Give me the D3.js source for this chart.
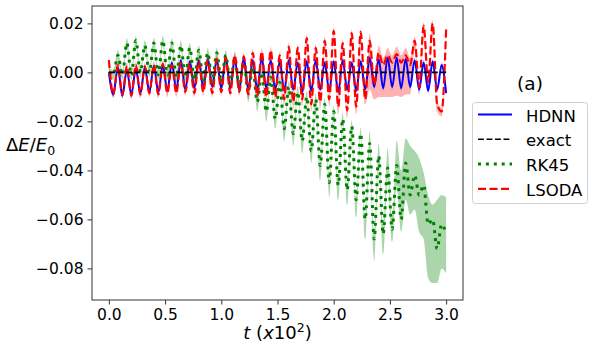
<!DOCTYPE html>
<html>
<head>
<meta charset="utf-8">
<script src="https://d3js.org/d3.v7.min.js"></script>
<style>
  body { margin: 0; background: #fff; }
  text { font-family: "DejaVu Sans", sans-serif; fill: #000; }
</style>
</head>
<body>
<div id="chart"></div>
<script>
// sample times, in units of 10^2 (shared by the three integrators)
const tGrid = [0.00,0.04,0.08,0.12,0.16,0.20,0.24,0.28,0.32,0.36,
  0.40,0.44,0.48,0.52,0.56,0.60,0.64,0.68,0.72,0.76,
  0.80,0.84,0.88,0.92,0.96,1.00,1.04,1.08,1.12,1.16,
  1.20,1.24,1.28,1.32,1.36,1.40,1.44,1.48,1.52,1.56,
  1.60,1.64,1.68,1.72,1.76,1.80,1.84,1.88,1.92,1.96,
  2.00,2.04,2.08,2.12,2.16,2.20,2.24,2.28,2.32,2.36,
  2.40,2.44,2.48,2.52,2.56,2.60,2.64,2.68,2.72,2.76,
  2.80,2.84,2.88,2.92,2.96,3.00];

// energy error dE/E0, all in units of 1e-3
const hdnn = [0,-9,2,-9.5,1,-9,1.5,-8.5,2,-8,
  2.5,-8,3,-7.5,4,-7,5,-7,4.5,-6.5,
  5,-6.5,5.5,-6,5,-6.5,6,-6.5,5.5,-7,
  6,-6.5,5,-7,6,-6.5,5,-7,4.5,-7.5,
  5,-7,4,-8,4.5,-7.5,5,-7,4,-7.5,
  4.5,-8,5,-7,4,-7.5,4.5,-7,6,-6,
  5.5,-6.5,6,-6,6,-6.5,5.5,-6,5,-7,
  4,-7.5,4.5,-7,3,-8.5];
const hdnnSpread = 1.2;

const lsoda = [5,-9,3,-9,2.5,-9.5,3,-9,2.5,-8.5,
  3,-9,3.5,-8.5,3,-8.5,4,-8,3.5,-8.5,
  4.5,-8,5,-8.5,5.5,-8,6,-8.5,7,-8,
  6.5,-9,8,-9.5,8.5,-10,9,-10,7,-11,
  10.5,-12,10,-11,14,-13,10,-12,13,-11,
  17,-14,12,-15.5,16,-14,16.5,-11,13,-5,
  8,3,7,4,7.5,4,7,3,13,-6,
  19,-4,20,-13,-16,18];
const lsodaLo = [1.5,1.5,1.5,1.5,1.5,1.5,1.5,1.5,1.5,1.5,
  1.5,1.5,1.5,1.5,1.5,1.5,1.5,1.5,1.5,1.5,
  1.5,1.5,1.5,1.5,1.5,1.5,1.5,1.5,1.5,1.5,
  1.5,2,1.5,2,1.5,2,1.5,2,1.5,2.5,
  2,3,2,3,2,3,2,3,2,3,
  2,3,2,3,2,3,4,2,20,6,
  18,13,17,14,17,14,16,12,4,3,
  3,4,3,3,2,2];
const lsodaHi = [1.5,1.5,1.5,1.5,1.5,1.5,1.5,1.5,1.5,1.5,
  1.5,1.5,1.5,1.5,1.5,1.5,1.5,1.5,1.5,1.5,
  1.5,1.5,1.5,1.5,1.5,1.5,1.5,1.5,1.5,1.5,
  1.5,1.5,1.5,1.5,1.5,1.5,1.5,1.5,1.5,1.5,
  1.5,1.5,1.5,1.5,1.5,1.5,1.5,1.5,1.5,1.5,
  1.5,1.5,1.5,1.5,1.5,1.5,1.5,1.5,3,3,
  3,3,3,3,3,3,3,3,1.5,1.5,
  1.5,1.5,1.5,1.5,1.5,1.5];

const rk45 = [0,-1,7,-1,12,-1,13,0,11,0,
  12,-1,13,-1,12,-2,11,-2,10,-3,
  9,-3,8,-4,8,-4,7,-5,6,-6,
  4,-8,2,-12,0,-16,-2,-19,-4,-23,
  -6,-25,-8,-28,-10,-32,-11,-38,-13,-45,
  -16,-46,-19,-48,-22,-52,-25,-60,-29,-68,
  -34,-66,-39,-64,-38,-60,-37,-50,-42,-50,
  -46,-62,-60,-72,-62,-66];
const rk45Lo = [2,2,2,2,2,2,2,2,2,2,
  2,2,2,2,2,2,2,2,2,2,
  2,2,2,2,2,2,2,2,2,2,
  2,4,1.5,4,1.5,4,1.5,4,1.5,5,
  1.5,5,1.5,5,1.5,5,1.5,6,1.5,6,
  1.5,6,1.5,6,1.5,7,1.5,8,3,9,
  3,8,4,5,8,5,15,8,14,15,
  22,22,26,14,18,16];
const rk45Hi = [2,2,2,2,2,2,2,2,2,2,
  2,2,2,2,2,2,2,2,2,2,
  2,2,2,2,2,2,2,2,2,2,
  2,1.5,2.5,1.5,2.5,1.5,2.5,1.5,2.5,1.5,
  2.5,1.5,2.5,1.5,2.5,1.5,2.5,1.5,2.5,1.5,
  2.5,1.5,2.5,1.5,2.5,1.5,2.5,1.5,5,3,
  5,4,8,5,10,20,10,20,10,15,
  5,12,6,20,12,15];

// exact solution: energy is conserved
const exactT = [0, 3.0];
const exactE = [0, 0];

const xTicks = [0, 0.5, 1.0, 1.5, 2.0, 2.5, 3.0];
const yTicks = [-0.08, -0.06, -0.04, -0.02, 0.00, 0.02];

const legendNames = ["HDNN", "exact", "RK45", "LSODA"];

// Dimensions
let width = 595,
    height = 351;
let margin = { top: 6, bottom: 51, left: 92, right: 132 };

let svg = d3.select('#chart')
  .append('svg')
  .attr('width', width)
  .attr('height', height);

let xScale = d3.scaleLinear()
  .domain([-0.15, 3.15])
  .range([margin.left, width - margin.right]);

let yScale = d3.scaleLinear()
  .domain([-0.0929, 0.0271])
  .range([height - margin.bottom, margin.top]);

// build point tables from the arrays (values back to real units)
const toRows = (vals, lo, hi) => tGrid.map((t, i) => ({
  t: t,
  v: vals[i] * 1e-3,
  lo: (vals[i] - (typeof lo === 'number' ? lo : lo[i])) * 1e-3,
  hi: (vals[i] + (typeof hi === 'number' ? hi : hi[i])) * 1e-3
}));
const hdnnRows = toRows(hdnn, hdnnSpread, hdnnSpread);
const lsodaRows = toRows(lsoda, lsodaLo, lsodaHi);
const rk45Rows = toRows(rk45, rk45Lo, rk45Hi);

const line = d3.line()
  .x(d => xScale(d.t))
  .y(d => yScale(d.v))
  .curve(d3.curveMonotoneX);

const band = d3.area()
  .x(d => xScale(d.t))
  .y0(d => yScale(d.lo))
  .y1(d => yScale(d.hi))
  .curve(d3.curveMonotoneX);

const styles = {
  HDNN:  { color: '#0000ff', width: 2,   dash: null },
  exact: { color: '#000000', width: 1.6, dash: '5.9,2.6' },
  RK45:  { color: '#008000', width: 3,   dash: '3,4.9' },
  LSODA: { color: '#ff0000', width: 2.2, dash: '8,3.5' }
};

// shaded spread
svg.append('path').datum(hdnnRows).attr('d', band)
  .attr('fill', '#0000ff').attr('fill-opacity', 0.2);
svg.append('path').datum(rk45Rows).attr('d', band)
  .attr('fill', '#008000').attr('fill-opacity', 0.33);
svg.append('path').datum(lsodaRows).attr('d', band)
  .attr('fill', '#ff0000').attr('fill-opacity', 0.3);

// lines
const drawLine = (rows, name) => svg.append('path')
  .datum(rows)
  .attr('d', line)
  .attr('fill', 'none')
  .attr('stroke', styles[name].color)
  .attr('stroke-width', styles[name].width)
  .attr('stroke-dasharray', styles[name].dash);

drawLine(hdnnRows, 'HDNN');
drawLine(rk45Rows, 'RK45');
drawLine(lsodaRows, 'LSODA');
drawLine(exactT.map((t, i) => ({ t: t, v: exactE[i] })), 'exact');

// axes
let xAxis = svg.append('g')
  .attr('transform', `translate(0,${height - margin.bottom})`)
  .call(d3.axisBottom(xScale).tickValues(xTicks).tickFormat(d3.format('.1f')).tickSize(4.5).tickPadding(4));

let yAxis = svg.append('g')
  .attr('transform', `translate(${margin.left},0)`)
  .call(d3.axisLeft(yScale).tickValues(yTicks).tickFormat(d3.format('.2f')).tickSize(4.5).tickPadding(4));

[xAxis, yAxis].forEach(ax => {
  ax.select('.domain').remove();
  ax.selectAll('.tick line').attr('stroke', '#333').attr('stroke-width', 1);
  ax.selectAll('.tick text')
    .style('font-family', '"DejaVu Sans", sans-serif')
    .style('font-size', '15.5px')
    .attr('fill', '#000');
});

// frame
svg.append('rect')
  .attr('x', margin.left)
  .attr('y', margin.top)
  .attr('width', width - margin.left - margin.right)
  .attr('height', height - margin.top - margin.bottom)
  .attr('fill', 'none')
  .attr('stroke', '#333')
  .attr('stroke-width', 1);

// x label
let xl = svg.append('text')
  .attr('x', (margin.left + width - margin.right) / 2)
  .attr('y', 339)
  .style('text-anchor', 'middle')
  .style('font-size', '18px');
xl.append('tspan').style('font-style', 'italic').text('t');
xl.append('tspan').text(' (');
xl.append('tspan').style('font-style', 'italic').text('x');
xl.append('tspan').text('10');
xl.append('tspan').attr('dy', -7).style('font-size', '12.5px').text('2');
xl.append('tspan').attr('dy', 7).text(')');

// y label (horizontal, as in the figure)
let yl = svg.append('text')
  .attr('x', 6)
  .attr('y', 151)
  .style('font-size', '18px');
yl.append('tspan').text('Δ');
yl.append('tspan').style('font-style', 'italic').text('E');
yl.append('tspan').text('/');
yl.append('tspan').style('font-style', 'italic').text('E');
yl.append('tspan').attr('dy', 4).style('font-size', '12.5px').text('0');

// legend
svg.append('text')
  .attr('x', 530)
  .attr('y', 90)
  .style('text-anchor', 'middle')
  .style('font-size', '18.5px')
  .text('(a)');

svg.append('rect')
  .attr('x', 472.5)
  .attr('y', 102.5)
  .attr('width', 115)
  .attr('height', 101)
  .attr('rx', 3)
  .attr('fill', '#fff')
  .attr('fill-opacity', 0.8)
  .attr('stroke', '#d0d0d0')
  .attr('stroke-width', 1);

const legend = svg.selectAll('.legend')
  .data(legendNames)
  .enter().append('g')
  .attr('class', 'legend')
  .attr('transform', (d, i) => `translate(0, ${121.5 + i * 24.8})`);

legend.append('line')
  .attr('x1', 478)
  .attr('x2', 512)
  .attr('y1', -7)
  .attr('y2', -7)
  .attr('stroke', d => styles[d].color)
  .attr('stroke-width', d => styles[d].width)
  .attr('stroke-dasharray', d => styles[d].dash);

legend.append('text')
  .attr('x', 526)
  .attr('y', 0)
  .style('font-size', '16.5px')
  .text(d => d);
</script>
</body>
</html>
